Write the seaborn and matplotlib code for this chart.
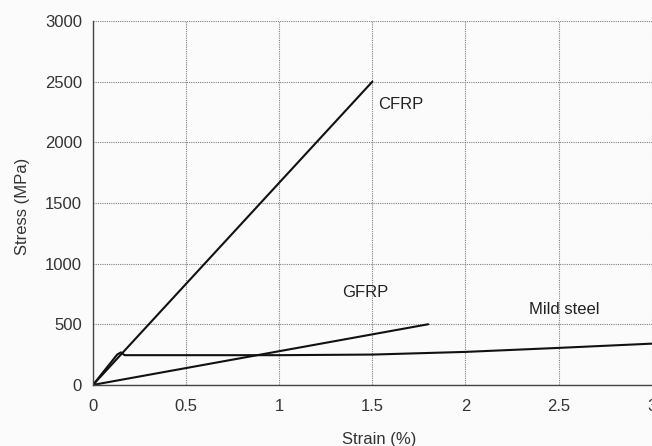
import matplotlib
matplotlib.use("Agg")
import matplotlib.pyplot as plt
import seaborn as sns
import pandas as pd

# values
cfrp_strain = [0, 1.5]
cfrp_stress = [0, 2500]
gfrp_strain = [0, 1.8]
gfrp_stress = [0, 500]
steel_strain = [0, 0.13, 0.15, 0.17, 0.5, 1.0, 1.5, 2.0, 2.5, 3.0]
steel_stress = [0, 250, 268, 245, 245, 245, 250, 272, 305, 340]

x_ticks = [0, 0.5, 1, 1.5, 2, 2.5, 3]
x_labels = ["0", "0.5", "1", "1.5", "2", "2.5", "3"]
y_ticks = [0, 500, 1000, 1500, 2000, 2500, 3000]

sns.set_theme(style="white")
plt.rcParams['font.family'] = ['Liberation Sans', 'DejaVu Sans']

fig = plt.figure(figsize=(6.52, 4.46), dpi=100, facecolor="#fbfbfb")
ax = fig.add_axes([0.1426, 0.137, 0.857, 0.816])
ax.set_facecolor("#fbfbfb")

series = [("CFRP", cfrp_strain, cfrp_stress),
          ("GFRP", gfrp_strain, gfrp_stress),
          ("Mild steel", steel_strain, steel_stress)]
for name, xs, ys in series:
    df = pd.DataFrame({"strain": xs, "stress": ys})
    sns.lineplot(data=df, x="strain", y="stress", ax=ax, color="#111111",
                 linewidth=1.5, sort=False, estimator=None)

ax.set_xlim(0, 3)
ax.set_ylim(0, 3000)
ax.set_xticks(x_ticks)
ax.set_xticklabels(x_labels)
ax.set_yticks(y_ticks)
ax.grid(True, linestyle=(0, (1, 1)), color="#808080", linewidth=0.8)
ax.set_axisbelow(True)

for s in ["top", "right"]:
    ax.spines[s].set_visible(False)
for s in ["left", "bottom"]:
    ax.spines[s].set_color("#444444")
    ax.spines[s].set_linewidth(1.0)

ax.tick_params(axis="both", direction="out", length=5, width=1, color="#444444",
               labelsize=12, labelcolor="#333333", pad=3)
ax.tick_params(axis="x", pad=5)

ax.set_xlabel("Strain (%)", fontsize=12, color="#333333")
ax.set_ylabel("Stress (MPa)", fontsize=12, color="#333333")
ax.xaxis.set_label_coords(0.513, -0.129)
ax.yaxis.set_label_coords(-0.112, 0.49)

ax.text(1.53, 2308, "CFRP", fontsize=12, color="#222222", va="center", ha="left")
ax.text(1.34, 758, "GFRP", fontsize=12, color="#222222", va="center", ha="left")
ax.text(2.34, 618, "Mild steel", fontsize=12, color="#222222", va="center", ha="left")

fig.savefig("out.png", dpi=100, facecolor=fig.get_facecolor())
